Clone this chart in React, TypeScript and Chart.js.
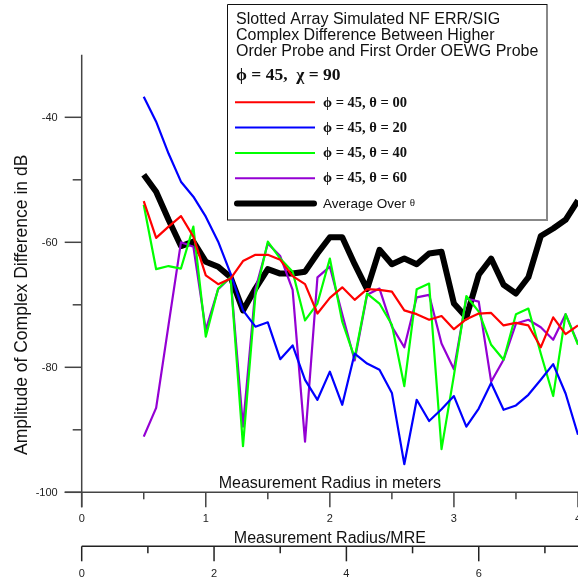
import React, { useEffect, useRef } from 'react';
import { Chart, registerables } from 'chart.js';

Chart.register(...registerables);

// ---- data ----
const radius = [0.5, 0.6, 0.7, 0.8, 0.9, 1.0, 1.1, 1.2, 1.3, 1.4, 1.5, 1.6, 1.7, 1.8, 1.9, 2.0, 2.1, 2.2,
  2.3, 2.4, 2.5, 2.6, 2.7, 2.8, 2.9, 3.0, 3.1, 3.2, 3.3, 3.4, 3.5, 3.6, 3.7, 3.8, 3.9, 4.0];

const theta00 = [-53.4, -59.3, -57.5, -55.8, -59.1, -65.3, -66.7, -65.8, -63.0, -62.0, -62.0, -62.8, -65.4,
  -66.7, -71.4, -68.9, -67.2, -69.2, -67.5, -67.6, -67.9, -70.9, -71.5, -72.4, -71.8, -73.9, -72.3, -71.4,
  -71.3, -73.3, -72.9, -73.3, -76.8, -72.0, -74.7, -73.3];

const theta20 = [-36.7, -40.7, -45.8, -50.3, -52.7, -55.9, -59.9, -65.0, -70.9, -73.5, -72.8, -78.7, -76.5,
  -82.0, -85.2, -80.7, -86.0, -77.8, -79.4, -80.4, -84.1, -95.5, -85.2, -88.6, -86.7, -84.6, -89.5, -86.6,
  -82.5, -86.8, -86.1, -84.4, -82.0, -79.5, -84.2, -90.8];

const theta40 = [-54.0, -64.3, -63.8, -64.2, -57.5, -75.1, -67.4, -65.6, -92.6, -68.5, -59.9, -62.6, -64.7,
  -72.5, -69.8, -62.6, -72.7, -78.5, -68.2, -69.8, -73.2, -83.0, -67.5, -66.6, -93.1, -81.3, -68.6, -71.1,
  -76.4, -78.8, -71.5, -70.6, -77.8, -84.6, -71.5, -76.4];

const theta60 = [-91.1, -86.5, -73.2, -60.0, -60.7, -74.0, -67.5, -65.6, -89.5, -67.5, -60.2, -62.2, -67.6,
  -91.9, -65.6, -63.9, -71.5, -78.9, -68.4, -67.4, -73.5, -76.8, -68.8, -68.4, -76.2, -80.3, -69.0, -69.5,
  -82.3, -78.8, -73.0, -72.4, -73.6, -75.6, -71.5, -76.2];

const average = [-49.2, -51.9, -56.4, -60.6, -59.9, -63.1, -63.9, -65.6, -70.9, -67.4, -64.3, -65.0, -65.0,
  -64.7, -61.8, -59.2, -59.2, -63.5, -67.5, -61.2, -63.5, -62.6, -63.5, -61.8, -61.5, -69.8, -72.0, -65.2,
  -62.6, -66.8, -68.2, -65.6, -59.0, -57.8, -56.4, -53.3];

const seriesLabels = ['ϕ = 45, θ = 00', 'ϕ = 45, θ = 20', 'ϕ = 45, θ = 40', 'ϕ = 45, θ = 60', 'Average Over θ'];

const yMajorTicks = [-40, -60, -80, -100];
const yMinorTicks = [-50, -70, -90];
const xMajorTicks = [0, 1, 2, 3, 4];
const xMinorTicks = [0.5, 1.5, 2.5, 3.5];
const mreMajorTicks = [0, 2, 4, 6];
const mreMinorTicks = [1, 3, 5, 7];
const MRE_PER_METER = 1.875;

const legendTitle = [
  'Slotted Array Simulated NF ERR/SIG',
  'Complex Difference Between Higher',
  'Order Probe and First Order OEWG Probe',
];
const legendSubtitle = 'ϕ = 45,  χ = 90';
const xTitle = 'Measurement Radius in meters';
const mreTitle = 'Measurement Radius/MRE';
const yTitle = 'Amplitude of Complex Difference in dB';

const SANS = '"Liberation Sans", Arial, Helvetica, sans-serif';
const SERIF = '"Liberation Serif", "DejaVu Serif", serif';

const toPoints = (vals: number[]) => vals.map((v, i) => ({ x: radius[i], y: v }));

const decorPlugin = {
  id: 'decor',
  afterDraw(chart: any) {
    const ctx: CanvasRenderingContext2D = chart.ctx;
    const xs = chart.scales.x;
    const ys = chart.scales.y;
    const ax = xs.getPixelForValue(0);
    const yBottom = ys.getPixelForValue(-100);
    const yTop = ys.getPixelForValue(-30);
    const right = 600;

    ctx.save();
    ctx.strokeStyle = '#444';
    ctx.lineWidth = 1.5;
    const seg = (x1: number, y1: number, x2: number, y2: number) => {
      ctx.beginPath();
      ctx.moveTo(x1, y1);
      ctx.lineTo(x2, y2);
      ctx.stroke();
    };

    // y axis
    seg(ax, yTop, ax, yBottom + 15);
    yMajorTicks.forEach((v) => {
      const p = ys.getPixelForValue(v);
      seg(ax - 17, p, ax, p);
    });
    yMinorTicks.forEach((v) => {
      const p = ys.getPixelForValue(v);
      seg(ax - 9, p, ax, p);
    });
    // x axis
    seg(ax - 17, yBottom, right, yBottom);
    xMajorTicks.forEach((v) => {
      const p = xs.getPixelForValue(v);
      seg(p, yBottom, p, yBottom + 15);
    });
    xMinorTicks.forEach((v) => {
      const p = xs.getPixelForValue(v);
      seg(p, yBottom, p, yBottom + 7);
    });
    // secondary (MRE) axis
    const mreY = yBottom + 54;
    ctx.strokeStyle = '#222';
    seg(ax, mreY, right, mreY);
    mreMajorTicks.forEach((v) => {
      const p = xs.getPixelForValue(v / MRE_PER_METER);
      seg(p, mreY, p, mreY + 15);
    });
    mreMinorTicks.forEach((v) => {
      const p = xs.getPixelForValue(v / MRE_PER_METER);
      seg(p, mreY, p, mreY + 7);
    });

    // tick labels
    ctx.fillStyle = '#222';
    ctx.font = `11px ${SANS}`;
    ctx.textAlign = 'right';
    ctx.textBaseline = 'middle';
    yMajorTicks.forEach((v) => {
      ctx.fillText(String(v), ax - 24, ys.getPixelForValue(v) + 0.5);
    });
    ctx.textAlign = 'center';
    xMajorTicks.forEach((v) => {
      ctx.fillText(String(v), xs.getPixelForValue(v), yBottom + 27);
    });
    mreMajorTicks.forEach((v) => {
      ctx.fillText(String(v), xs.getPixelForValue(v / MRE_PER_METER), mreY + 28);
    });

    // axis titles
    ctx.fillStyle = '#111';
    ctx.font = `16px ${SANS}`;
    const cx = (xs.left + xs.right) / 2;
    ctx.fillText(xTitle, cx, yBottom - 9);
    ctx.fillText(mreTitle, cx, mreY - 8);
    ctx.save();
    ctx.translate(22, ys.getPixelForValue(-70));
    ctx.rotate(-Math.PI / 2);
    ctx.font = `17.5px ${SANS}`;
    ctx.fillText(yTitle, 0, 0);
    ctx.restore();

    // legend box
    const bx = 227, by = 4, bw = 320, bh = 216;
    ctx.fillStyle = '#fff';
    ctx.fillRect(bx, by, bw, bh);
    ctx.strokeStyle = '#888';
    ctx.lineWidth = 2;
    seg(bx + bw, by, bx + bw, by + bh + 1);
    seg(bx, by + bh, bx + bw + 1, by + bh);
    ctx.strokeStyle = '#111';
    ctx.lineWidth = 1;
    seg(bx + 0.5, by + 0.5, bx + bw, by + 0.5);
    seg(bx + 0.5, by + 0.5, bx + 0.5, by + bh);

    ctx.fillStyle = '#111';
    ctx.textAlign = 'left';
    ctx.textBaseline = 'middle';
    ctx.font = `16px ${SANS}`;
    legendTitle.forEach((t, i) => ctx.fillText(t, 236, 20 + i * 15.8));
    ctx.font = `bold 17.5px ${SERIF}`;
    ctx.fillText(legendSubtitle, 236, 75);

    const ds = chart.data.datasets;
    ds.forEach((d: any, i: number) => {
      const yy = 102.3 + i * 25.3;
      ctx.strokeStyle = d.borderColor;
      ctx.lineWidth = i === 4 ? 6 : 2;
      ctx.lineCap = i === 4 ? 'round' : 'butt';
      seg(i === 4 ? 237 : 235, yy, i === 4 ? 314 : 315, yy);
      ctx.fillStyle = '#111';
      if (i < 4) {
        ctx.font = `bold 14.5px ${SERIF}`;
        ctx.fillText(d.label, 323, yy + 0.5);
      } else {
        const main = d.label.slice(0, -1);
        ctx.font = `13.5px ${SANS}`;
        ctx.fillText(main, 323, yy + 0.5);
        const w = ctx.measureText(main).width;
        ctx.font = `11px ${SERIF}`;
        ctx.fillText(d.label.slice(-1), 323 + w, yy);
      }
    });
    ctx.restore();
  },
};

export default function App() {
  const canvasRef = useRef<HTMLCanvasElement | null>(null);

  useEffect(() => {
    const canvas = canvasRef.current;
    if (!canvas) return;
    const colors = ['#ff0000', '#0000ff', '#00ff00', '#9400d3', '#000000'];
    const series = [theta00, theta20, theta40, theta60, average];
    const chart = new Chart(canvas, {
      type: 'line',
      data: {
        datasets: series.map((s, i) => ({
          label: seriesLabels[i],
          data: toPoints(s),
          borderColor: colors[i],
          backgroundColor: colors[i],
          borderWidth: i === 4 ? 6 : 2.2,
          pointRadius: 0,
          tension: 0,
          fill: false,
          borderJoinStyle: 'round' as const,
        })),
      },
      options: {
        responsive: false,
        animation: false,
        devicePixelRatio: 1,
        layout: { padding: { left: 81.7, right: 22, top: 54.8, bottom: 89.7 } },
        plugins: { legend: { display: false }, tooltip: { enabled: false }, title: { display: false } },
        scales: {
          x: { type: 'linear', min: 0, max: 4, display: false },
          y: { type: 'linear', min: -100, max: -30, display: false },
        },
      },
      plugins: [decorPlugin],
    });
    return () => chart.destroy();
  }, []);

  return (
    <div style={{ position: 'fixed', left: 0, top: 0, width: 578, height: 582, overflow: 'hidden', background: '#fff' }}>
      <canvas ref={canvasRef} width={600} height={582} style={{ display: 'block' }} />
    </div>
  );
}
